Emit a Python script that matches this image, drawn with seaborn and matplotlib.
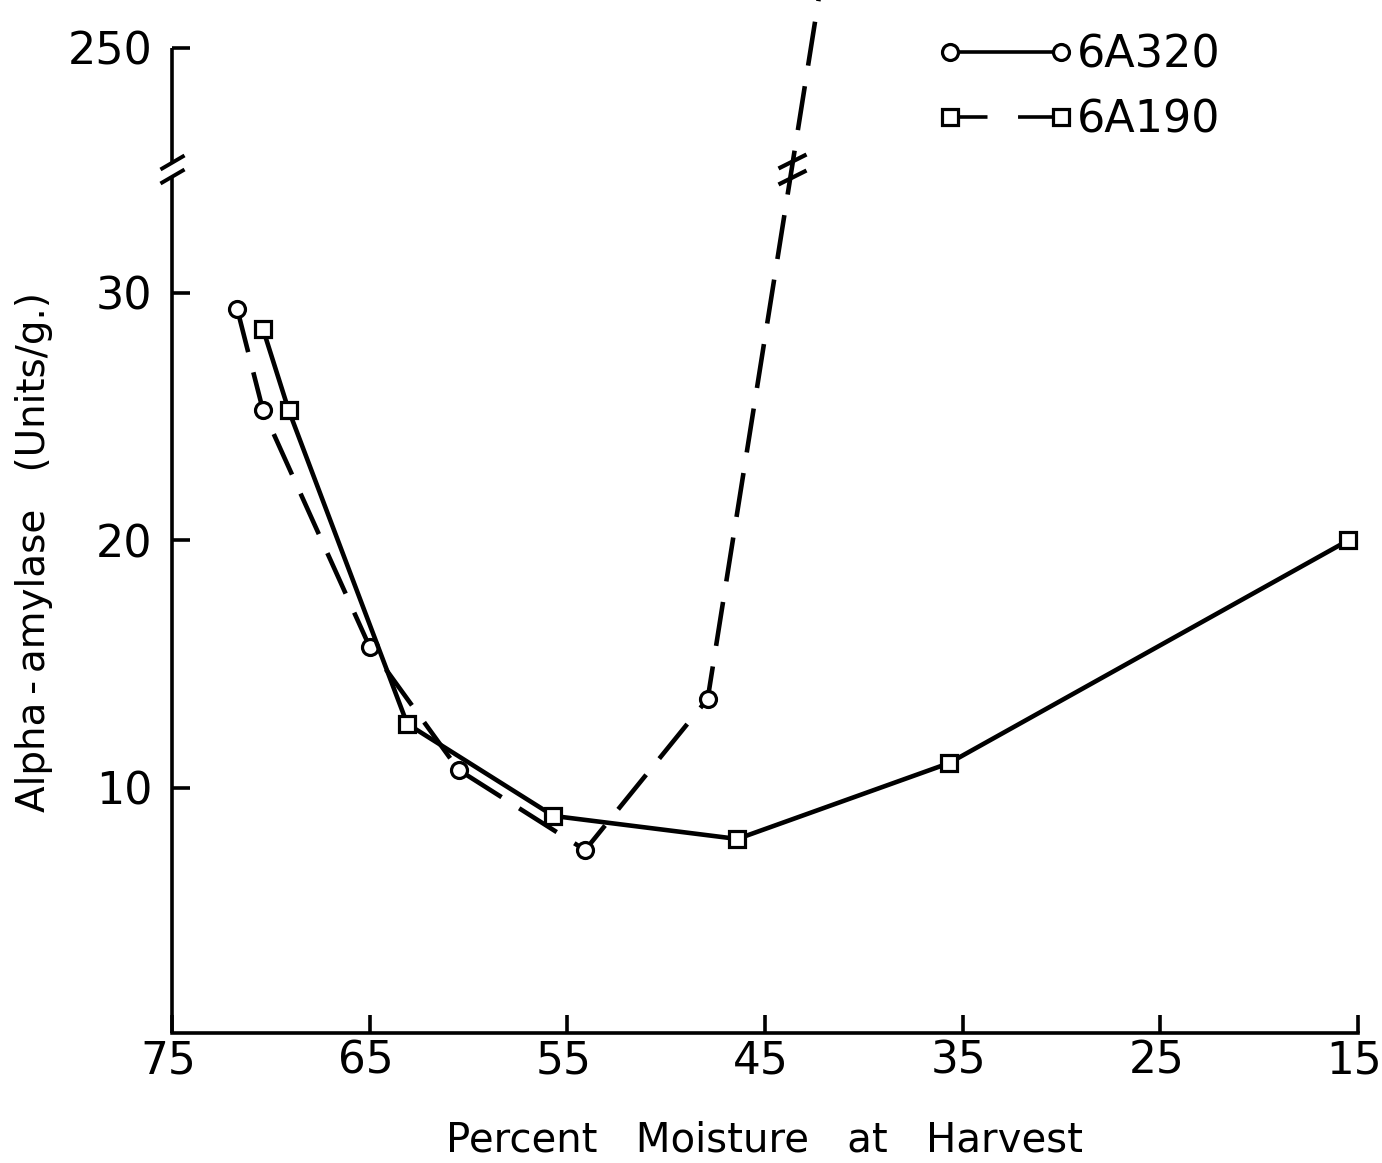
import numpy as np
import pandas as pd
import matplotlib
matplotlib.use("Agg")
import matplotlib.pyplot as plt
import matplotlib.transforms as mtransforms
from matplotlib.lines import Line2D
from matplotlib.path import Path
from matplotlib.markers import MarkerStyle
import seaborn as sns

# Percent moisture at harvest vs. alpha-amylase (units/g)
moist_6a320 = [71.7, 70.4, 65.0, 60.5, 54.1, 47.9, 42.0]
amyl_6a320 = [29.35, 25.27, 15.70, 10.73, 7.49, 13.6, 400.0]

moist_6a190 = [70.4, 69.1, 63.1, 55.7, 46.4, 35.7, 15.5]
amyl_6a190 = [28.55, 25.27, 12.59, 8.87, 7.94, 11.0, 20.0]

x_ticks = [75, 65, 55, 45, 35, 25, 15]
y_ticks = [10, 20, 30, 250]
y_ticklabels = ["10", "20", "30", "250"]
series_names = ["6A320", "6A190"]

# broken y scale: linear up to 35, strongly compressed above
BREAK = 35.0
K = 4.9 / 215.0


def fwd(y):
    y = np.asarray(y, dtype=float)
    return np.where(y <= BREAK, y, BREAK + (y - BREAK) * K)


def inv(t):
    t = np.asarray(t, dtype=float)
    return np.where(t <= BREAK, t, BREAK + (t - BREAK) / K)


sns.set_style("ticks")
plt.rcParams["font.family"] = ["DejaVu Sans"]
plt.rcParams["text.color"] = "black"
plt.rcParams["axes.labelcolor"] = "black"
plt.rcParams["xtick.color"] = "black"
plt.rcParams["ytick.color"] = "black"
plt.rcParams["lines.scale_dashes"] = False
plt.rcParams["lines.solid_capstyle"] = "butt"

W, H = 1382, 1163
fig = plt.figure(figsize=(W / 100, H / 100), dpi=100)
fig.patch.set_facecolor("white")
ax = fig.add_axes([172 / W, (H - 1033) / H, (1358 - 172) / W, 1033 / H])
ax.set_facecolor("white")

ax.set_yscale("function", functions=(fwd, inv))
ax.set_xlim(75, 15)
ax.set_ylim(0.1, 335.0)

LW = 3.3
MS = 11.5
MEW = 2.3

df_a = pd.DataFrame({"moisture": moist_6a320, "amylase": amyl_6a320})
df_b = pd.DataFrame({"moisture": moist_6a190, "amylase": amyl_6a190})

sns.lineplot(data=df_a, x="moisture", y="amylase", ax=ax, sort=False,
             estimator=None, errorbar=None, color="black", linewidth=LW,
             linestyle=(0, (32, 15)), marker="o", markersize=MS,
             markerfacecolor="white", markeredgecolor="black",
             markeredgewidth=MEW, zorder=3)
sns.lineplot(data=df_b, x="moisture", y="amylase", ax=ax, sort=False,
             estimator=None, errorbar=None, color="black", linewidth=LW,
             linestyle="-", marker="s", markersize=MS - 0.5,
             markerfacecolor="white", markeredgecolor="black",
             markeredgewidth=MEW, zorder=4)

# spines and ticks
for side in ["top", "right", "left"]:
    ax.spines[side].set_visible(False)
ax.spines["bottom"].set_linewidth(2.6)
ax.spines["bottom"].set_color("black")

ax.set_xticks(x_ticks)
ax.set_xticklabels([str(v) for v in x_ticks])
ax.set_yticks(y_ticks)
ax.set_yticklabels(y_ticklabels)
ax.yaxis.set_minor_locator(matplotlib.ticker.NullLocator())
ax.tick_params(axis="both", direction="in", length=13, width=2.6,
               color="black", labelsize=32, labelcolor="black")
ax.tick_params(axis="x", pad=5, labelsize=31.5)
ax.tick_params(axis="y", pad=14)

# x tick labels sit a little left of their ticks
shift = mtransforms.ScaledTranslation(-4 / 100, 0, fig.dpi_scale_trans)
for lab in ax.get_xticklabels():
    lab.set_transform(lab.get_transform() + shift)

# left axis line drawn in two pieces around the break
ytr = ax.get_yaxis_transform()
gap_t = 0.28
ax.plot([0, 0], [0.1, BREAK - gap_t], transform=ytr, color="black",
        lw=2.6, clip_on=False, solid_capstyle="butt")
ax.plot([0, 0], [float(inv(BREAK + gap_t)), 250], transform=ytr,
        color="black", lw=2.6, clip_on=False, solid_capstyle="butt")

# double-slash break symbols
axis_brk = MarkerStyle(Path([(-12, 0), (12, 14), (-12, -14), (12, 0)],
                            [Path.MOVETO, Path.LINETO, Path.MOVETO, Path.LINETO]))
ax.plot([0.0], [BREAK], transform=ytr, marker=axis_brk, ms=20.2,
        mew=2.8, mec="black", mfc="none", ls="none", clip_on=False, zorder=5)

# where the rising 6A320 line crosses the break
t_a = fwd(amyl_6a320)
i = len(t_a) - 2
frac = (BREAK - t_a[i]) / (t_a[i + 1] - t_a[i])
x_cross = moist_6a320[i] + frac * (moist_6a320[i + 1] - moist_6a320[i])
line_brk = MarkerStyle(Path([(-14, 1), (14, 15), (-14, -15), (14, -1)],
                            [Path.MOVETO, Path.LINETO, Path.MOVETO, Path.LINETO]))
ax.plot([x_cross], [BREAK], marker=line_brk, ms=21.6, mew=3.0,
        mec="black", mfc="none", ls="none", clip_on=False, zorder=5)

# labels
ax.set_xlabel("Percent   Moisture   at   Harvest", fontsize=29, labelpad=27)
ax.set_ylabel("Alpha\u2009-\u2009amylase   (Units/g.)", fontsize=28)
ax.yaxis.set_label_coords((53 - 172) / 1186, (1033 - 552) / 1033)

# legend
h1 = Line2D([], [], color="black", linewidth=2.6, marker="o", ms=MS,
            mfc="white", mec="black", mew=MEW)
h2 = Line2D([], [], color="black", linewidth=2.6, linestyle=(0, (27, 22)),
            marker="s", ms=MS - 0.5, mfc="white", mec="black", mew=MEW)
ax.legend(handles=[h1, h2], labels=series_names, loc="upper left",
          bbox_to_anchor=(937 / W, 1 - 34 / H), bbox_transform=fig.transFigure,
          frameon=False, numpoints=2, handlelength=3.1, handletextpad=0.05,
          borderpad=0, borderaxespad=0, labelspacing=0.49, fontsize=32)

fig.savefig("out.png", dpi=100, facecolor="white")
